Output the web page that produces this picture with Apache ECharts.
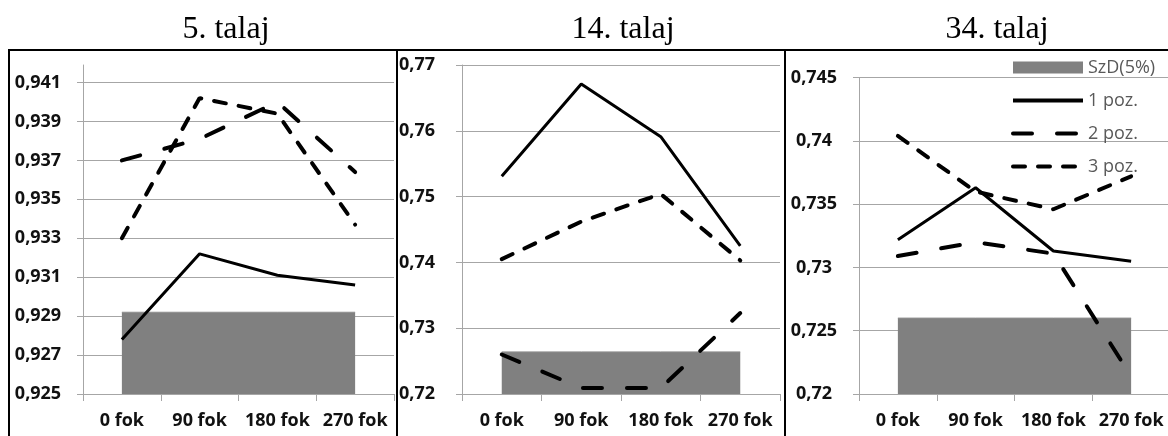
<!DOCTYPE html>
<html>
<head>
<meta charset="utf-8">
<script src="https://cdn.jsdelivr.net/npm/echarts@6/dist/echarts.min.js"></script>
<style>
  html, body { margin: 0; padding: 0; background: #fff; }
  #chart { width: 1168px; height: 436px; }
</style>
</head>
<body>
<div id="chart"></div>
<script>
const categories = ['0 fok', '90 fok', '180 fok', '270 fok']

// 5. talaj
const szd_5   = [0.9292, 0.9292, 0.9292, 0.9292]
const poz1_5  = [0.9278, 0.9322, 0.9311, 0.9306]
const poz2_5  = [0.9370, 0.9381, 0.9400, 0.9364]
const poz3_5  = [0.9330, 0.9402, 0.9394, 0.9337]
const yTicks5 = [0.925, 0.927, 0.929, 0.931, 0.933, 0.935, 0.937, 0.939, 0.941]

// 14. talaj
const szd_14   = [0.7264, 0.7264, 0.7264, 0.7264]
const poz1_14  = [0.7531, 0.7671, 0.7591, 0.7425]
const poz2_14  = [0.7260, 0.7209, 0.7209, 0.7323]
const poz3_14  = [0.7405, 0.7462, 0.7504, 0.7403]
const yTicks14 = [0.72, 0.73, 0.74, 0.75, 0.76, 0.77]

// 34. talaj
const szd_34   = [0.7260, 0.7260, 0.7260, 0.7260]
const poz1_34  = [0.7322, 0.7363, 0.7313, 0.7305]
const poz2_34  = [0.7309, 0.7320, 0.7311, 0.7214]
const poz3_34  = [0.7404, 0.7360, 0.7346, 0.7372]
const yTicks34 = [0.72, 0.725, 0.73, 0.735, 0.74, 0.745]

const panels = [
  { title: '5. talaj',  tx: 221, left: 83,  top: 65,   width: 311, height: 329,   min: 0.925, max: 0.9419, ticks: yTicks5,  szd: szd_5,  p1: poz1_5,  p2: poz2_5,  p3: poz3_5 },
  { title: '14. talaj', tx: 618, left: 462, top: 65,   width: 318, height: 329,   min: 0.72,  max: 0.77,   ticks: yTicks14, szd: szd_14, p1: poz1_14, p2: poz2_14, p3: poz3_14 },
  { title: '34. talaj', tx: 992, left: 859, top: 77.7, width: 311, height: 316.3, min: 0.72,  max: 0.745,  ticks: yTicks34, szd: szd_34, p1: poz1_34, p2: poz2_34, p3: poz3_34 },
]

const GRID = '#a6a6a6'
const LABEL_FONT = { color: '#111', fontFamily: 'Open Sans', fontWeight: 'bold', fontSize: 18 }

function fmt(v) {
  return String(+v.toFixed(4)).replace('.', ',')
}

function panelSeries(p, i) {
  const base = { type: 'line', xAxisIndex: i, yAxisIndex: i, symbol: 'none', silent: true }
  return [
    { ...base, name: 'SzD(5%)', data: p.szd, z: 1,
      itemStyle: { color: '#808080' },
      lineStyle: { color: '#8f8f8f', width: 1 },
      areaStyle: { color: '#808080', opacity: 1, origin: 'start' } },
    { ...base, name: '1 poz.', data: p.p1, z: 3,
      itemStyle: { color: '#000' },
      lineStyle: { color: '#000', width: 3 } },
    { ...base, name: '2 poz.', data: p.p2, z: 3,
      itemStyle: { color: '#000' },
      lineStyle: { color: '#000', width: 4, type: [19, 25], cap: 'round' } },
    { ...base, name: '3 poz.', data: p.p3, z: 3,
      itemStyle: { color: '#000' },
      lineStyle: { color: '#000', width: 4, type: [12, 13], cap: 'round' } },
  ]
}

const chart = echarts.init(document.getElementById('chart'), null, { renderer: 'canvas' })

chart.setOption({
  animation: false,
  backgroundColor: '#fff',
  textStyle: { fontFamily: 'Open Sans' },
  title: panels.map(p => ({
    text: p.title, left: p.tx, top: 9, textAlign: 'center',
    textStyle: { fontFamily: 'Liberation Serif', fontSize: 32, fontWeight: 'normal', color: '#000' },
  })),
  legend: {
    orient: 'vertical', left: 1006, top: 52,
    itemWidth: 70, itemHeight: 12, itemGap: 12,
    // hide the marker dot that line series put on their legend icon
    itemStyle: { opacity: 0 },
    lineStyle: { width: 4 },
    textStyle: { color: '#595959', fontSize: 18, lineHeight: 21, fontFamily: 'Open Sans' },
    data: [
      { name: 'SzD(5%)', icon: 'rect', itemStyle: { opacity: 1, color: '#808080' } },
      '1 poz.', '2 poz.', '3 poz.',
    ],
  },
  grid: panels.map(p => ({
    left: p.left, top: p.top, width: p.width, height: p.height,
    containLabel: false, outerBoundsMode: 'none',
  })),
  xAxis: panels.map((p, i) => ({
    type: 'category', gridIndex: i, data: categories, boundaryGap: true,
    axisLine: { show: true, lineStyle: { color: GRID, width: 1 } },
    axisTick: { show: true, length: 7, lineStyle: { color: GRID } },
    axisLabel: { ...LABEL_FONT, margin: 18, interval: 0 },
    splitLine: { show: false },
  })),
  yAxis: panels.map((p, i) => ({
    type: 'value', gridIndex: i, min: p.min, max: p.max,
    axisLine: { show: true, lineStyle: { color: GRID, width: 1 } },
    axisTick: { show: true, length: 6, lineStyle: { color: GRID }, customValues: p.ticks },
    axisLabel: { ...LABEL_FONT, margin: 45, align: 'center', customValues: p.ticks, formatter: fmt },
    splitLine: { show: true, lineStyle: { color: GRID, width: 1 } },
  })),
  graphic: [
    { type: 'line', shape: { x1: 8, y1: 50, x2: 1168, y2: 50 }, style: { stroke: '#000', lineWidth: 2 }, z: 100 },
    { type: 'line', shape: { x1: 9, y1: 50, x2: 9, y2: 436 }, style: { stroke: '#000', lineWidth: 2 }, z: 100 },
    { type: 'line', shape: { x1: 397, y1: 50, x2: 397, y2: 436 }, style: { stroke: '#000', lineWidth: 2 }, z: 100 },
    { type: 'line', shape: { x1: 785, y1: 50, x2: 785, y2: 436 }, style: { stroke: '#000', lineWidth: 2 }, z: 100 },
  ],
  series: panels.flatMap(panelSeries),
})
</script>
</body>
</html>
